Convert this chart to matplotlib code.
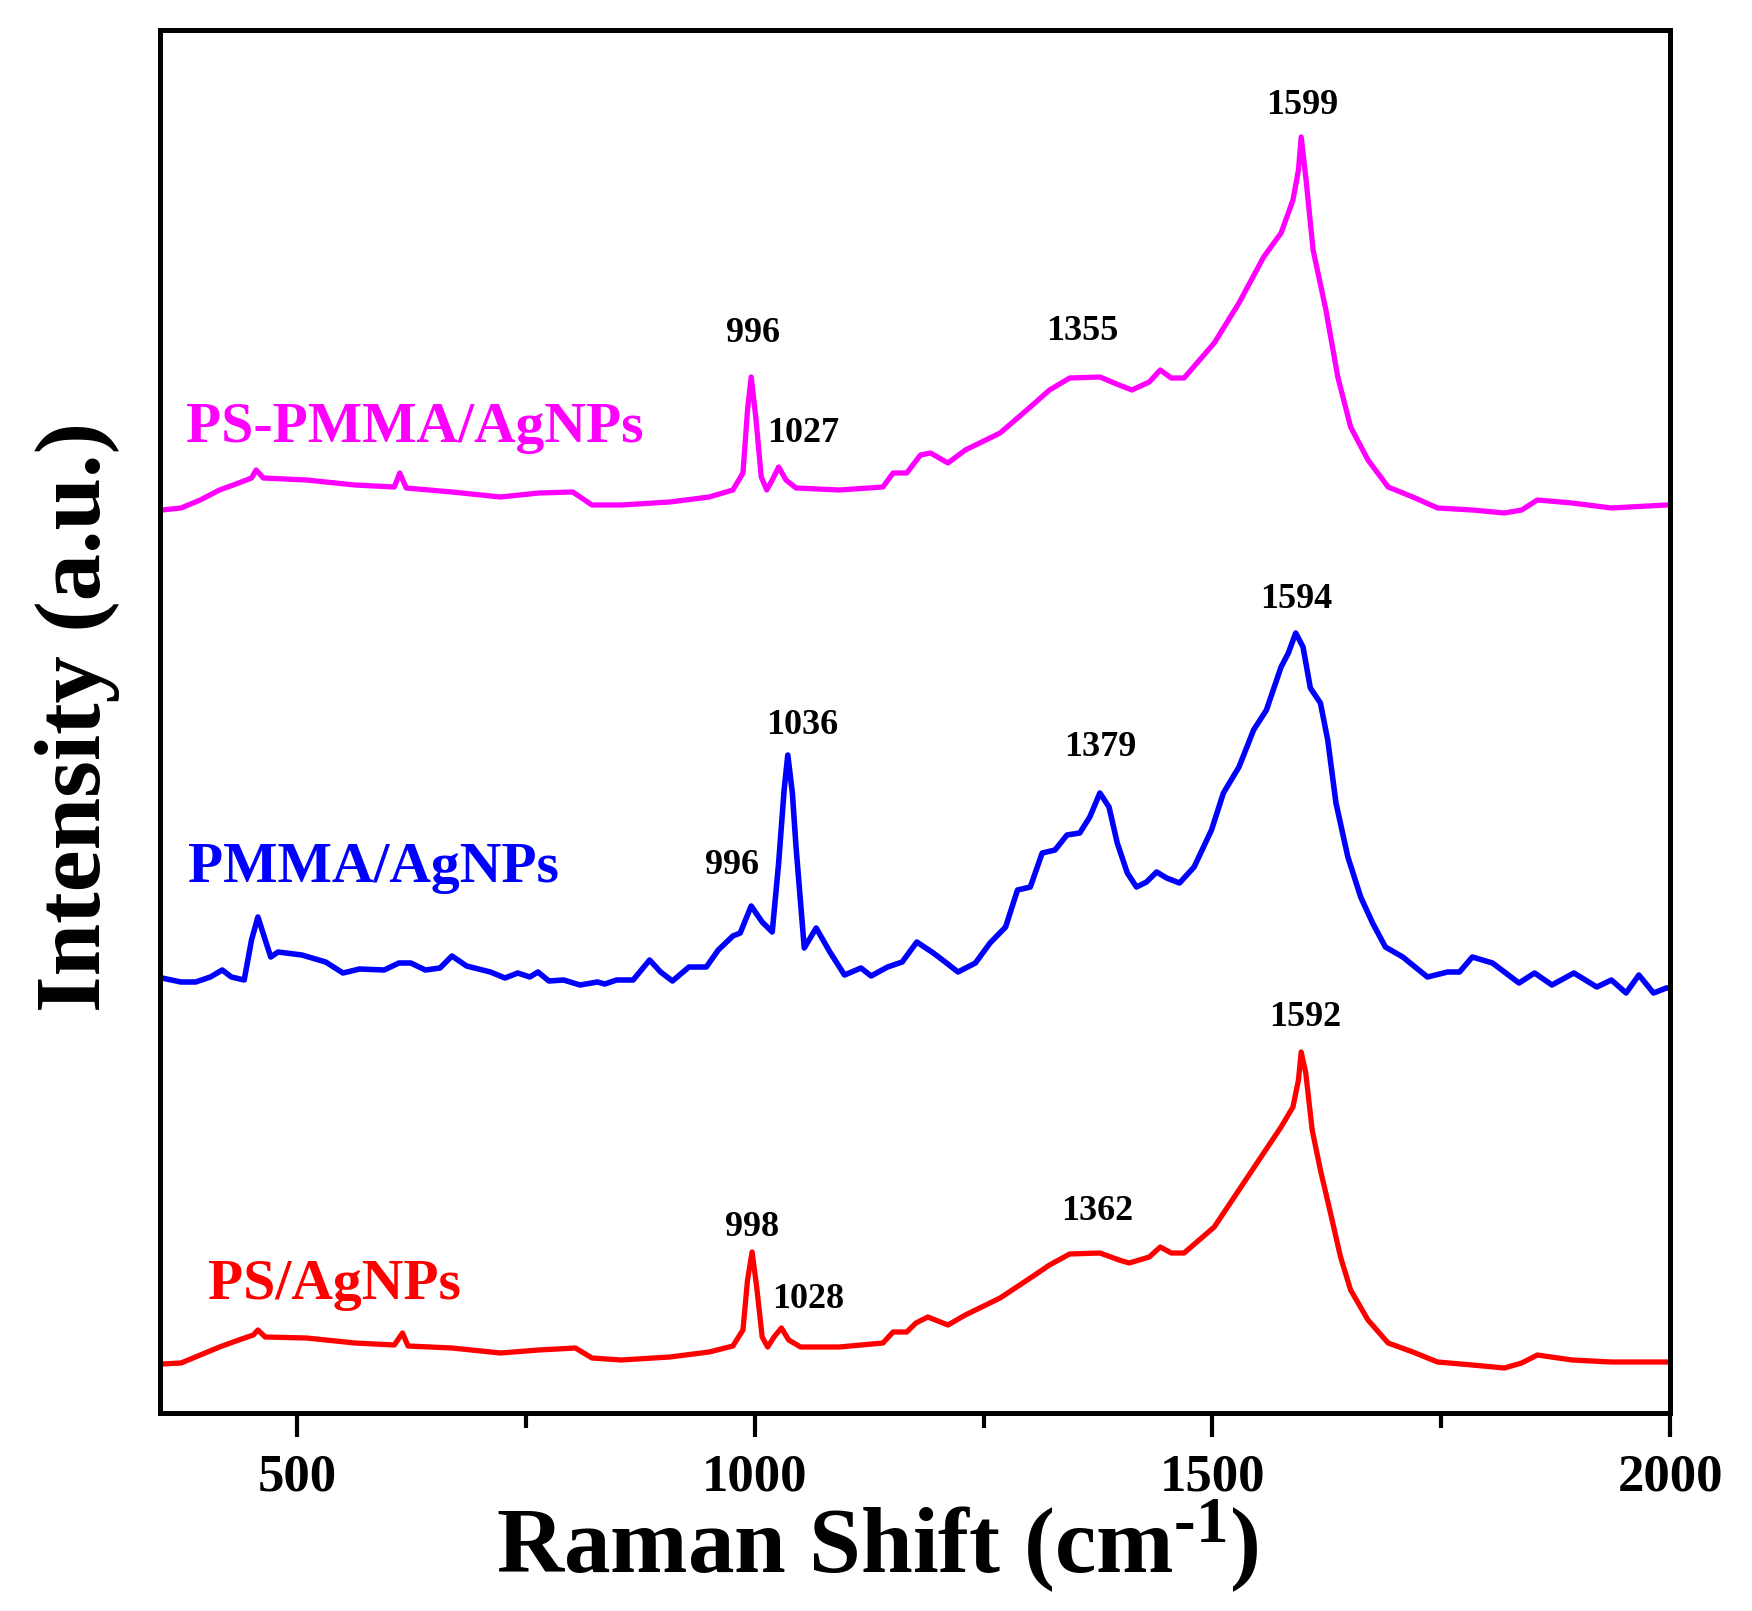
import matplotlib
matplotlib.use("Agg")
import matplotlib.pyplot as plt
from matplotlib.ticker import MultipleLocator

plt.rcParams["font.family"] = ["Liberation Serif", "DejaVu Serif"]
plt.rcParams["font.weight"] = "bold"
plt.rcParams["mathtext.fontset"] = "custom"
plt.rcParams["mathtext.rm"] = "Liberation Serif:bold"
plt.rcParams["mathtext.bf"] = "Liberation Serif:bold"
plt.rcParams["mathtext.default"] = "bf"

# PS-PMMA/AgNPs spectrum (arbitrary units incl. offset)
shift_pspmma = [352, 373, 394, 415, 436, 450, 455, 463, 510, 563, 606, 612, 619, 669, 722,
                764, 801, 822, 854, 907, 950, 976, 987, 992, 996, 1001, 1007, 1013, 1019, 1026,
                1034, 1045, 1092, 1140, 1151, 1166, 1181, 1192, 1211, 1230, 1268, 1301, 1322, 1344,
                1377, 1398, 1412, 1431, 1443, 1455, 1469, 1502, 1529, 1556, 1575, 1588, 1594, 1597,
                1602, 1610, 1624, 1637, 1651, 1670, 1692, 1719, 1746, 1784, 1819, 1838, 1855, 1893,
                1936, 1996, 2000]
int_pspmma = [903, 905, 913, 923, 930, 935, 943, 935, 933, 928, 926, 940, 925, 921, 916,
              920, 921, 908, 908, 911, 916, 923, 940, 1003, 1036, 996, 936, 923, 933, 946,
              933, 925, 923, 926, 940, 940, 958, 960, 950, 963, 980, 1006, 1023, 1035,
              1036, 1028, 1023, 1031, 1043, 1035, 1035, 1070, 1110, 1156, 1180, 1213, 1243, 1276,
              1236, 1163, 1103, 1036, 986, 953, 926, 916, 905, 903, 900, 903, 913, 910,
              905, 908, 908]

# PMMA/AgNPs spectrum
shift_pmma = [352, 373, 389, 405, 418, 428, 442, 450, 457, 465, 471, 479, 505, 531, 550,
              568, 595, 611, 624, 640, 656, 669, 685, 711, 727, 741, 754, 763, 775, 791,
              809, 828, 836, 849, 867, 885, 897, 910, 928, 947, 960, 976, 984, 996, 1008,
              1019, 1026, 1032, 1036, 1041, 1045, 1054, 1067, 1082, 1098, 1116, 1127, 1145, 1161,
              1177, 1195, 1208, 1222, 1241, 1257, 1274, 1287, 1301, 1314, 1328, 1341, 1355, 1366,
              1377, 1387, 1396, 1407, 1417, 1428, 1439, 1450, 1464, 1480, 1499, 1512, 1529, 1545,
              1559, 1575, 1583, 1591, 1599, 1607, 1618, 1626, 1635, 1648, 1662, 1675, 1689, 1708,
              1735, 1757, 1770, 1784, 1806, 1835, 1852, 1871, 1895, 1920, 1936, 1952, 1966, 1982,
              1996, 2000]
int_pmma = [435, 431, 431, 436, 443, 436, 433, 473, 496, 473, 456, 461, 458, 451, 440,
            444, 443, 450, 450, 443, 445, 457, 447, 441, 435, 440, 436, 441, 432, 433,
            428, 431, 429, 433, 433, 453, 441, 432, 446, 446, 463, 477, 480, 507, 491,
            481, 550, 623, 658, 620, 566, 465, 485, 461, 438, 445, 437, 446, 451,
            471, 460, 451, 441, 450, 470, 486, 523, 526, 560, 563, 578, 580, 596,
            620, 606, 570, 540, 526, 531, 541, 535, 530, 546, 583, 620, 646, 683,
            703, 746, 760, 780, 766, 725, 710, 673, 610, 556, 516, 490, 466, 456,
            436, 441, 441, 456, 450, 430, 440, 428, 440, 426, 433, 420, 438, 420,
            425, 425]

# PS/AgNPs spectrum
shift_ps = [352, 373, 394, 415, 436, 452, 457, 465, 510, 563, 606, 615, 621, 669, 722,
            764, 804, 822, 854, 907, 950, 976, 987, 992, 997, 1002, 1008, 1014, 1021, 1029,
            1037, 1050, 1092, 1140, 1151, 1166, 1176, 1189, 1211, 1230, 1268, 1301, 1322, 1344,
            1377, 1398, 1409, 1431, 1443, 1455, 1469, 1502, 1529, 1556, 1575, 1588, 1594, 1597,
            1602, 1609, 1618, 1629, 1640, 1651, 1670, 1692, 1719, 1746, 1784, 1819, 1838, 1855,
            1893, 1936, 1996, 2000]
int_ps = [49, 50, 58, 66, 73, 78, 83, 76, 75, 70, 68, 80, 67, 65, 60,
          63, 65, 55, 53, 56, 61, 67, 83, 133, 161, 126, 76, 66, 76, 85,
          73, 66, 66, 70, 81, 81, 90, 96, 88, 98, 115, 135, 148, 159,
          160, 153, 150, 156, 166, 160, 160, 186, 223, 260, 286, 306, 333, 361,
          340, 283, 243, 200, 156, 123, 93, 70, 61, 51, 48, 45, 50, 58,
          53, 51, 51, 51]

series_names = ["PS-PMMA/AgNPs", "PMMA/AgNPs", "PS/AgNPs"]
series_colors = ["#ff00ff", "#0000ff", "#ff0000"]

# peak labels per series
peaks_pspmma = ["996", "1027", "1355", "1599"]
peaks_pmma = ["996", "1036", "1379", "1594"]
peaks_ps = ["998", "1028", "1362", "1592"]

fig = plt.figure(figsize=(17.52, 16.11), dpi=100)
ax = fig.add_axes([160 / 1752, 1 - 1413 / 1611, 1510 / 1752, 1383 / 1611])

ax.plot(shift_pspmma, int_pspmma, color=series_colors[0], lw=3.8)
ax.plot(shift_pmma, int_pmma, color=series_colors[1], lw=4.0)
ax.plot(shift_ps, int_ps, color=series_colors[2], lw=3.8)

# where the peak numbers sit (text centres, data coords)
peak_pos = [
    [(998, 1080), (1053, 980), (1358, 1081), (1598, 1308)],
    [(975, 548), (1052, 688), (1377, 665), (1591, 814)],
    [(997, 186), (1058, 113), (1374, 201), (1601, 396)],
]
for labels, pos in zip([peaks_pspmma, peaks_pmma, peaks_ps], peak_pos):
    for txt, (px, py) in zip(labels, pos):
        ax.text(px, py, txt, ha="center", va="center", fontsize=26,
                fontweight="bold", color="black")

name_pos = [(378, 971), (381, 531), (402, 114)]
for name, col, (nx, ny) in zip(series_names, series_colors, name_pos):
    ax.text(nx, ny, name, ha="left", va="baseline", fontsize=41.5,
            fontweight="bold", color=col)

ax.set_xlim(350, 2000)
ax.set_ylim(0, 1383)
ax.set_yticks([])

ax.xaxis.set_major_locator(MultipleLocator(500))
ax.xaxis.set_minor_locator(MultipleLocator(250))
ax.tick_params(axis="x", which="major", direction="out", length=17, width=3,
               labelsize=38, pad=12)
ax.tick_params(axis="x", which="minor", direction="out", length=11, width=3)
for lab in ax.get_xticklabels():
    lab.set_fontweight("bold")
for sp in ax.spines.values():
    sp.set_linewidth(3.6)

ax.set_xlabel(r"Raman Shift (cm$^{\text{-1}}$)", fontsize=67, fontweight="bold",
              va="baseline")
ax.xaxis.set_label_coords(0.475, -(1573 - 1413) / 1383)
ax.set_ylabel("Intensity (a.u.)", fontsize=68, fontweight="bold", va="baseline")
ax.yaxis.set_label_coords((100 - 160) / 1510, 0.503)

fig.savefig("out.png", dpi=100)
